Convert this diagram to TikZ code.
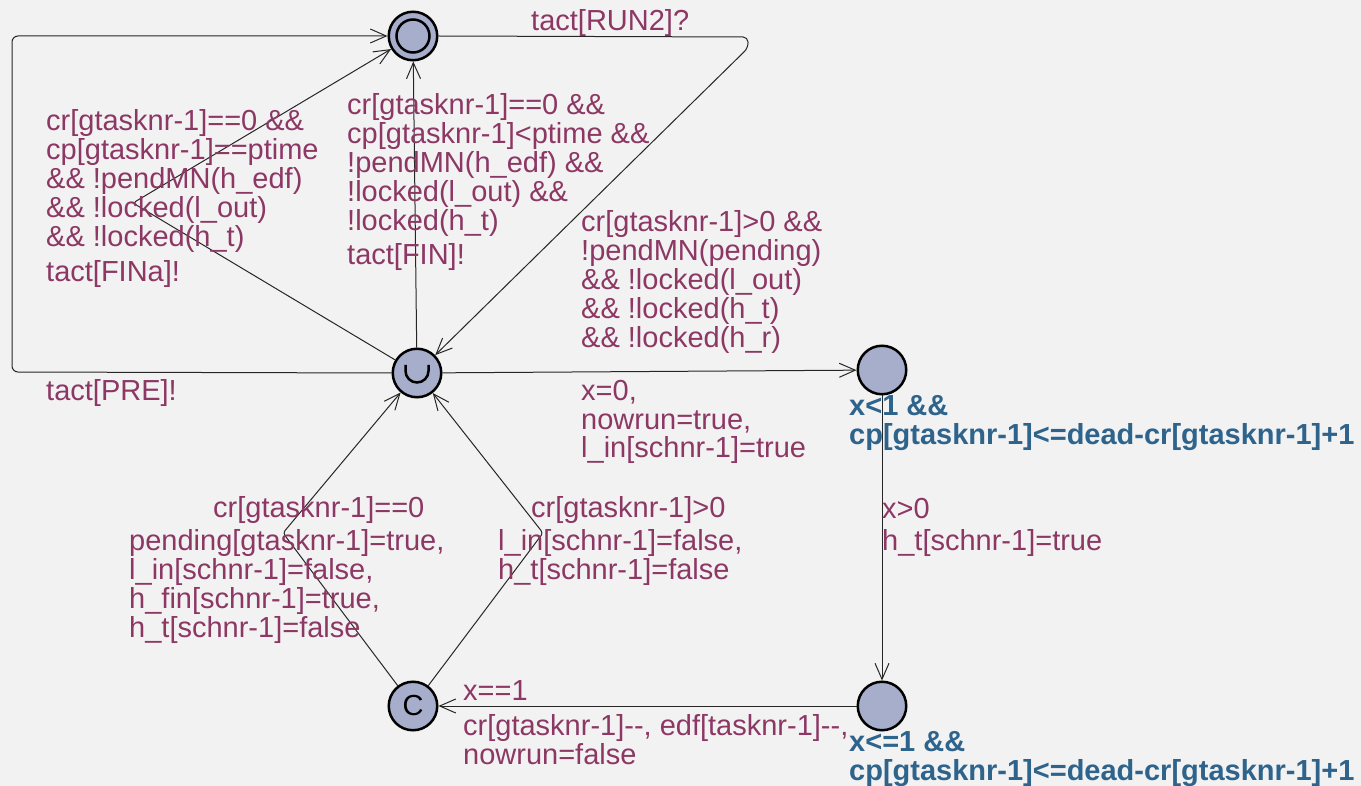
\documentclass[tikz,border=0pt]{standalone}
\usepackage{fontspec}
\setmainfont{Liberation Sans}
\usetikzlibrary{arrows.meta}

\definecolor{bgcol}{RGB}{242,242,242}
\definecolor{locfill}{RGB}{166,174,204}
\definecolor{lblcol}{RGB}{140,55,100}
\definecolor{invcol}{RGB}{46,100,140}

% multi-line label: baseline of the first line is the reference point
\newcommand\lbl[1]{\vtop{\baselineskip=29pt\lineskiplimit=-1000pt\halign{##\hfil\cr#1\crcr}}}

\begin{document}
\begin{tikzpicture}[x=1pt,y=-1pt,
  loc/.style={circle, draw=black, line width=2.5pt, fill=locfill, minimum size=48.5pt, inner sep=0pt},
  edge/.style={draw=black!85, line width=1pt, -{Straight Barb[length=16pt,width=14pt,line width=1pt]}},
  lab/.style={anchor=base west, inner sep=0pt, text=lblcol, font=\fontsize{29}{29}\selectfont},
  inv/.style={anchor=base west, inner sep=0pt, text=invcol, font=\fontsize{29}{29}\selectfont\bfseries}]

\fill[bgcol] (0,0) rectangle (1361,786);
\useasboundingbox (0,0) rectangle (1361,786);

% locations
\node[loc] (A) at (413,36) {};
\node[circle, draw=black, line width=2.5pt, minimum size=33pt, inner sep=0pt] (Ain) at (A) {};
\node[loc] (U) at (417,373) {};
\node[loc] (R) at (882,370) {};
\node[loc] (B) at (882,706) {};
\node[loc, font=\fontsize{29}{29}\selectfont] (C) at (413,706) {C};
% urgent mark
\draw[line width=2.5pt, shift={(U.center)}] (-11.5,-8) -- (-11.5,-2) arc[start angle=180, end angle=0, radius=11.5] -- (11.5,-8);

% transitions
\draw[edge, rounded corners=5pt] (A.east) -- (748,37) -- (748,48) -- (U);
\draw[edge] (U) -- (A);
\draw[edge, rounded corners=3pt] (U) -- (133,203) -- (A);
\draw[edge, rounded corners=6pt] (U.west) -- (12,372) -- (12,36) -- (A.west);
\draw[edge] (U) -- (R);
\draw[edge] (R) -- (B);
\draw[edge] (B) -- (C);
\draw[edge, rounded corners=3pt] (C) -- (283,533) -- (U);
\draw[edge, rounded corners=3pt] (C) -- (543,533) -- (U);

% labels
\node[lab] (lrun) at (531,31) {tact[RUN2]?};

\node[lab] (gfin) at (347,115) {\lbl{cr[gtasknr-1]==0 \&\&\cr cp[gtasknr-1]<ptime \&\&\cr !pendMN(h\_edf) \&\&\cr !locked(l\_out) \&\&\cr !locked(h\_t)}};
\node[lab] (sfin) at (347,265) {tact[FIN]!};

\node[lab] (gfina) at (46,131) {\lbl{cr[gtasknr-1]==0 \&\&\cr cp[gtasknr-1]==ptime\cr \&\& !pendMN(h\_edf)\cr \&\& !locked(l\_out)\cr \&\& !locked(h\_t)}};
\node[lab] (sfina) at (46,282) {tact[FINa]!};

\node[lab] (spre) at (46,400) {tact[PRE]!};

\node[lab] (grun) at (581,232) {\lbl{cr[gtasknr-1]>0 \&\&\cr !pendMN(pending)\cr \&\& !locked(l\_out)\cr \&\& !locked(h\_t)\cr \&\& !locked(h\_r)}};
\node[lab] (arun) at (581,400) {\lbl{x=0,\cr nowrun=true,\cr l\_in[schnr-1]=true}};

\node[lab] (gx) at (882,518) {x>0};
\node[lab] (ax) at (882,550) {h\_t[schnr-1]=true};

\node[lab] (gend) at (463,700) {x==1};
\node[lab] (aend) at (463,735) {\lbl{cr[gtasknr-1]-{}-, edf[tasknr-1]-{}-,\cr nowrun=false}};

\node[lab] (gl) at (213,517) {cr[gtasknr-1]==0};
\node[lab] (al) at (129,550) {\lbl{pending[gtasknr-1]=true,\cr l\_in[schnr-1]=false,\cr h\_fin[schnr-1]=true,\cr h\_t[schnr-1]=false}};

\node[lab] (gr) at (531,517) {cr[gtasknr-1]>0};
\node[lab] (ar) at (498,550) {\lbl{l\_in[schnr-1]=false,\cr h\_t[schnr-1]=false}};

% invariants
\node[inv] (ir) at (849,416) {\lbl{x<1 \&\&\cr cp[gtasknr-1]<=dead-cr[gtasknr-1]+1}};
\node[inv] (ib) at (849,751) {\lbl{x<=1 \&\&\cr cp[gtasknr-1]<=dead-cr[gtasknr-1]+1}};

\end{tikzpicture}
\end{document}
